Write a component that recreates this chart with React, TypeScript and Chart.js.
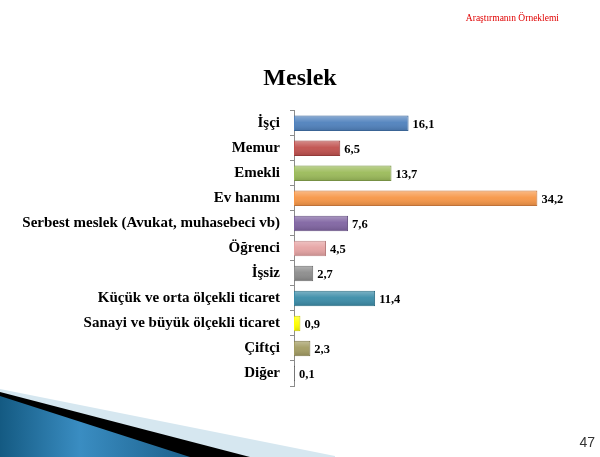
import { useEffect, useRef } from 'react'
import Chart from 'chart.js/auto'

const categories = [
  'İşçi',
  'Memur',
  'Emekli',
  'Ev hanımı',
  'Serbest meslek (Avukat, muhasebeci vb)',
  'Öğrenci',
  'İşsiz',
  'Küçük ve orta ölçekli ticaret',
  'Sanayi ve büyük ölçekli ticaret',
  'Çiftçi',
  'Diğer'
]
const values = [16.1, 6.5, 13.7, 34.2, 7.6, 4.5, 2.7, 11.4, 0.9, 2.3, 0.1]
const barColors = [
  '#4f81bd', '#c0504d', '#9bbb59', '#f79646', '#8064a2',
  '#e6a3a3', '#8c8c8c', '#3a8ca8', '#ffff00', '#a39c62', '#7f7f7f'
]
const borderColors = [
  '#3a6596', '#963c3a', '#789245', '#c2743a', '#634e7f',
  '#b88080', '#6a6a6a', '#2a6a80', '#c8c800', '#7a7446', '#555555'
]

const fmt = (v: number) => v.toFixed(1).replace('.', ',')

// soft gloss on the bars + value labels at the bar ends
const barExtras = {
  id: 'barExtras',
  afterDatasetsDraw(chart: any) {
    const ctx = chart.ctx
    const meta = chart.getDatasetMeta(0)
    ctx.save()
    meta.data.forEach((bar: any) => {
      const left = bar.base
      const w = bar.x - bar.base
      const top = bar.y - bar.height / 2
      const h = bar.height
      if (w < 3) return
      const g = ctx.createLinearGradient(0, top, 0, top + h)
      g.addColorStop(0, 'rgba(255,255,255,0.35)')
      g.addColorStop(0.45, 'rgba(255,255,255,0.05)')
      g.addColorStop(1, 'rgba(0,0,0,0.15)')
      ctx.fillStyle = g
      ctx.fillRect(left + 1, top + 1, w - 2, h - 2)
    })
    ctx.font = 'bold 12.5px "Liberation Serif", serif'
    ctx.fillStyle = '#000'
    ctx.textAlign = 'left'
    ctx.textBaseline = 'middle'
    meta.data.forEach((bar: any, i: number) => {
      ctx.fillText(fmt(values[i]), bar.x + 4, bar.y + 1)
    })
    ctx.restore()
  }
}

// slide decorations: header, page number, bottom swoosh
const slideDecor = {
  id: 'slideDecor',
  beforeDraw(chart: any) {
    const ctx = chart.ctx
    ctx.save()
    ctx.fillStyle = '#fff'
    ctx.fillRect(0, 0, chart.width, chart.height)

    ctx.fillStyle = '#d6e7f0'
    ctx.beginPath()
    ctx.moveTo(0, 389)
    ctx.lineTo(335, 456)
    ctx.lineTo(335, 457)
    ctx.lineTo(0, 457)
    ctx.closePath()
    ctx.fill()

    ctx.fillStyle = '#000'
    ctx.beginPath()
    ctx.moveTo(0, 392)
    ctx.lineTo(250, 457)
    ctx.lineTo(0, 457)
    ctx.closePath()
    ctx.fill()

    const g = ctx.createLinearGradient(0, 0, 200, 0)
    g.addColorStop(0, '#145a82')
    g.addColorStop(0.4, '#3a8dc2')
    g.addColorStop(1, '#195c86')
    ctx.fillStyle = g
    ctx.beginPath()
    ctx.moveTo(0, 396)
    ctx.lineTo(190, 457)
    ctx.lineTo(0, 457)
    ctx.closePath()
    ctx.fill()

    ctx.fillStyle = '#e00000'
    ctx.font = '9.5px "Liberation Serif", serif'
    ctx.textAlign = 'right'
    ctx.textBaseline = 'middle'
    ctx.fillText('Araştırmanın Örneklemi', 559, 18)

    ctx.fillStyle = '#333'
    ctx.font = '14px "Liberation Sans", sans-serif'
    ctx.fillText('47', 595, 443)
    ctx.restore()
  }
}

export default function App() {
  const canvasRef = useRef<HTMLCanvasElement>(null)
  const chartRef = useRef<Chart | null>(null)

  useEffect(() => {
    if (!canvasRef.current) return
    if (chartRef.current) chartRef.current.destroy()

    chartRef.current = new Chart(canvasRef.current, {
      type: 'bar',
      data: {
        labels: categories,
        datasets: [
          {
            data: values,
            backgroundColor: barColors,
            borderColor: borderColors,
            borderWidth: 1,
            minBarLength: 1,
            barPercentage: 0.62,
            categoryPercentage: 1
          }
        ]
      },
      options: {
        indexAxis: 'y',
        animation: false,
        responsive: true,
        maintainAspectRatio: false,
        layout: { padding: { top: 64, bottom: 71, left: 0, right: 0 } },
        plugins: {
          legend: { display: false },
          tooltip: { enabled: false },
          title: {
            display: true,
            text: 'Meslek',
            color: '#000',
            font: { family: '"Liberation Serif", serif', size: 24, weight: 'bold' },
            padding: { top: 0, bottom: 18 }
          }
        },
        scales: {
          x: { display: false, min: 0, max: 43 },
          y: {
            afterFit: (scale: any) => { scale.width = 294 },
            border: { display: true, color: '#8c8c8c', width: 1 },
            grid: { offset: true, drawOnChartArea: false, tickLength: 4, color: '#8c8c8c' },
            ticks: {
              color: '#000',
              padding: 10,
              font: { family: '"Liberation Serif", serif', size: 15, weight: 'bold' }
            }
          }
        }
      },
      plugins: [slideDecor, barExtras]
    })

    return () => {
      if (chartRef.current) chartRef.current.destroy()
    }
  }, [])

  return (
    <div style={{ position: 'fixed', top: 0, left: 0, width: 600, height: 457, background: '#fff' }}>
      <canvas ref={canvasRef}></canvas>
    </div>
  )
}
